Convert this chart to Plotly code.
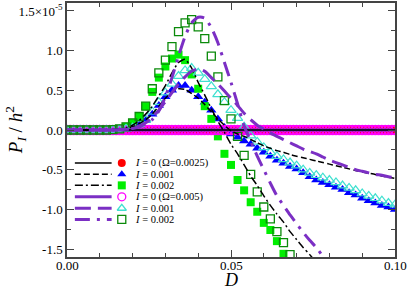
import plotly.graph_objects as go

# ---------------- data (values in units of 1e-5) ----------------
D = [0.000, 0.002, 0.004, 0.006, 0.008, 0.010, 0.012, 0.014, 0.016, 0.018,
     0.020, 0.022, 0.024, 0.026, 0.028, 0.030, 0.032, 0.034, 0.036, 0.038,
     0.040, 0.042, 0.044, 0.046, 0.048, 0.050, 0.052, 0.054, 0.056, 0.058,
     0.060, 0.062, 0.064, 0.066, 0.068, 0.070, 0.072, 0.074, 0.076, 0.078,
     0.080, 0.082, 0.084, 0.086, 0.088, 0.090, 0.092, 0.094, 0.096, 0.098,
     0.100]

D_FINE = [0.000, 0.001, 0.002, 0.003, 0.004, 0.005, 0.006, 0.007, 0.008, 0.009,
          0.010, 0.011, 0.012, 0.013, 0.014, 0.015, 0.016, 0.017, 0.018, 0.019,
          0.020, 0.021, 0.022, 0.023, 0.024, 0.025, 0.026, 0.027, 0.028, 0.029,
          0.030, 0.031, 0.032, 0.033, 0.034, 0.035, 0.036, 0.037, 0.038, 0.039,
          0.040, 0.041, 0.042, 0.043, 0.044, 0.045, 0.046, 0.047, 0.048, 0.049,
          0.050, 0.051, 0.052, 0.053, 0.054, 0.055, 0.056, 0.057, 0.058, 0.059,
          0.060, 0.061, 0.062, 0.063, 0.064, 0.065, 0.066, 0.067, 0.068, 0.069,
          0.070, 0.071, 0.072, 0.073, 0.074, 0.075, 0.076, 0.077, 0.078, 0.079,
          0.080, 0.081, 0.082, 0.083, 0.084, 0.085, 0.086, 0.087, 0.088, 0.089,
          0.090, 0.091, 0.092, 0.093, 0.094, 0.095, 0.096, 0.097, 0.098, 0.099,
          0.100]

# I = 0 series (both Omega): identically zero
zero_fine = [0.0, 0.0, 0.0, 0.0, 0.0, 0.0, 0.0, 0.0, 0.0, 0.0,
             0.0, 0.0, 0.0, 0.0, 0.0, 0.0, 0.0, 0.0, 0.0, 0.0,
             0.0, 0.0, 0.0, 0.0, 0.0, 0.0, 0.0, 0.0, 0.0, 0.0,
             0.0, 0.0, 0.0, 0.0, 0.0, 0.0, 0.0, 0.0, 0.0, 0.0,
             0.0, 0.0, 0.0, 0.0, 0.0, 0.0, 0.0, 0.0, 0.0, 0.0,
             0.0, 0.0, 0.0, 0.0, 0.0, 0.0, 0.0, 0.0, 0.0, 0.0,
             0.0, 0.0, 0.0, 0.0, 0.0, 0.0, 0.0, 0.0, 0.0, 0.0,
             0.0, 0.0, 0.0, 0.0, 0.0, 0.0, 0.0, 0.0, 0.0, 0.0,
             0.0, 0.0, 0.0, 0.0, 0.0, 0.0, 0.0, 0.0, 0.0, 0.0,
             0.0, 0.0, 0.0, 0.0, 0.0, 0.0, 0.0, 0.0, 0.0, 0.0,
             0.0]

# Omega = 0.0025, symbols
blue_I001 = [0, 0, 0, 0, 0, 0, 0, 0, 0.005, 0.01,
             0.03, 0.06, 0.12, 0.2, 0.31, 0.42, 0.5, 0.56, 0.56, 0.5,
             0.42, 0.35, 0.25, 0.14, 0.03, -0.05, -0.09, -0.14, -0.18, -0.23,
             -0.28, -0.33, -0.38, -0.42, -0.46, -0.49, -0.54, -0.59, -0.63, -0.66,
             -0.69, -0.72, -0.75, -0.79, -0.82, -0.86, -0.89, -0.92, -0.95, -0.97,
             -1.0]
green_I002 = [0, 0, 0, 0, 0, 0, 0, 0.005, 0.015, 0.04,
              0.09, 0.17, 0.3, 0.48, 0.66, 0.8, 0.9, 0.95, 0.88, 0.7,
              0.52, 0.3, 0.14, -0.08, -0.3, -0.44, -0.63, -0.76, -0.91, -1.03,
              -1.17, -1.26, -1.4, -1.56, -1.72]
# Omega = 0.005, symbols
cyan_I001 = [0, 0, 0, 0, 0, 0, 0, 0, 0.005, 0.015,
             0.03, 0.07, 0.13, 0.23, 0.35, 0.47, 0.58, 0.68, 0.75, 0.78,
             0.72, 0.64, 0.55, 0.45, 0.35, 0.25, 0.15, 0.04, -0.07, -0.15,
             -0.22, -0.28, -0.33, -0.37, -0.41, -0.45, -0.5, -0.54, -0.57, -0.6,
             -0.63, -0.66, -0.7, -0.73, -0.76, -0.8, -0.83, -0.86, -0.89, -0.92,
             -0.94]
dgreen_I002 = [0, 0, 0, 0, 0, 0, 0, 0.005, 0.015, 0.04,
               0.09, 0.17, 0.3, 0.52, 0.72, 0.88, 1.05, 1.24, 1.35, 1.39,
               1.3, 1.15, 0.93, 0.67, 0.37, 0.14, -0.08, -0.32, -0.56, -0.78,
               -0.97, -1.12, -1.28, -1.42, -1.57, -1.75]

# Omega = 0.0025, lines
black_dash_I001 = [0, 0, 0, 0, 0, 0, 0, 0.005, 0.01, 0.02,
                   0.04, 0.08, 0.13, 0.2, 0.3, 0.4, 0.48, 0.52, 0.51, 0.46,
                   0.4, 0.32, 0.23, 0.14, 0.06, -0.01, -0.05, -0.08, -0.12, -0.16,
                   -0.2, -0.23, -0.26, -0.28, -0.31, -0.33, -0.35, -0.37, -0.39, -0.41,
                   -0.43, -0.45, -0.47, -0.49, -0.51, -0.53, -0.545, -0.56, -0.58, -0.595,
                   -0.61]
black_dashdot_I002 = [0, 0, 0, 0, 0, 0, 0, 0.005, 0.01, 0.03,
                      0.06, 0.12, 0.2, 0.3, 0.43, 0.56, 0.72, 0.85, 0.89, 0.78,
                      0.6, 0.44, 0.27, 0.11, -0.03, -0.18, -0.3, -0.44, -0.58, -0.7,
                      -0.83, -0.95, -1.06, -1.16, -1.28, -1.38, -1.48, -1.57, -1.67]
# Omega = 0.005, lines
purple_dash_I001 = [0, 0, 0, 0, 0, 0, 0, 0, 0.005, 0.01,
                    0.02, 0.05, 0.09, 0.16, 0.25, 0.36, 0.47, 0.58, 0.67, 0.74,
                    0.77, 0.74, 0.66, 0.58, 0.49, 0.4, 0.31, 0.21, 0.13, 0.06,
                    0.01, -0.04, -0.08, -0.12, -0.16, -0.2, -0.24, -0.27, -0.3, -0.34,
                    -0.38, -0.41, -0.44, -0.47, -0.5, -0.52, -0.54, -0.56, -0.57, -0.59,
                    -0.6]
purple_dashdot_I002 = [0, 0, 0, 0, 0, 0, 0, 0, 0.005, 0.01,
                       0.02, 0.04, 0.08, 0.13, 0.24, 0.42, 0.66, 0.93, 1.18, 1.35,
                       1.42, 1.41, 1.29, 1.1, 0.85, 0.6, 0.33, 0.05, -0.14, -0.33,
                       -0.5, -0.67, -0.83, -0.95, -1.07, -1.18, -1.29, -1.39, -1.48, -1.59,
                       -1.7]

ZERO_LINE_D = [0.0, 0.1]
ZERO_LINE_V = [0.0, 0.0]

Y_TICKS = [-1.5, -1.0, -0.5, 0.0, 0.5, 1.0, 1.5]
Y_TICKTEXT = ["-1.5", "-1.0", "-0.5", "0.0", "0.5", "1.0", "1.5\u00d710<sup>-5</sup>"]
X_TICKS = [0.0, 0.05, 0.1]
X_TICKTEXT = ["0.00", "0.05", "0.10"]

LEGEND_LABELS = ["<i>I</i> = 0 (\u03a9=0.0025)", "<i>I</i> = 0.001", "<i>I</i> = 0.002",
                 "<i>I</i> = 0 (\u03a9=0.005)", "<i>I</i> = 0.001", "<i>I</i> = 0.002"]

# ---------------- styles ----------------
RED = "#ff0000"
BLUE = "#0000ff"
LIME = "#00ee00"
MAGENTA = "#ff00ff"
CYAN = "#40e0d0"
DGREEN = "#0a8a0a"
PURPLE = "#7b2fc4"
FONT = "Liberation Serif"

fig = go.Figure()

def mk(x, y, symbol, color, size, fill=True, lw=1.5):
    if fill:
        marker = dict(symbol=symbol, color=color, size=size, line=dict(width=0))
    else:
        marker = dict(symbol=symbol + "-open", color=color, size=size, line=dict(width=lw, color=color))
    fig.add_trace(go.Scatter(x=x, y=y, mode="markers", marker=marker,
                             showlegend=False, hoverinfo="skip"))

def ln(x, y, color, width, dash):
    fig.add_trace(go.Scatter(x=x, y=y, mode="lines", line=dict(color=color, width=width, dash=dash, shape="spline", smoothing=0.6),
                             showlegend=False, hoverinfo="skip"))

# markers
mk(D_FINE, zero_fine, "circle", RED, 9)
mk(D, blue_I001, "triangle-up", BLUE, 9)
mk(D[:len(green_I002)], green_I002, "square", LIME, 8)
mk(D_FINE, zero_fine, "circle", MAGENTA, 9, fill=False, lw=1.5)
mk(D, cyan_I001, "triangle-up", CYAN, 9, fill=False, lw=1.2)
mk(D[:len(dgreen_I002)], dgreen_I002, "square", DGREEN, 8, fill=False, lw=1.3)

# lines
BD = "6px,3px"
BDD = "8px,3px,2px,3px"
PD = "16px,7px"
PDD = "15px,7px,3px,7px"
ln(ZERO_LINE_D, ZERO_LINE_V, PURPLE, 3, "solid")
ln(ZERO_LINE_D, ZERO_LINE_V, "#000000", 1.5, "solid")
ln(D, black_dash_I001, "#000000", 1.5, BD)
ln(D[:len(black_dashdot_I002)], black_dashdot_I002, "#000000", 1.5, BDD)
ln(D, purple_dash_I001, PURPLE, 3, PD)
ln(D[:len(purple_dashdot_I002)], purple_dashdot_I002, PURPLE, 3, PDD)

# ---------------- manual legend on an overlay axis ----------------
leg_lines = [("#000000", 1.5, "solid"), ("#000000", 1.5, BD), ("#000000", 1.5, BDD),
             (PURPLE, 3, "solid"), (PURPLE, 3, PD), (PURPLE, 3, PDD)]
leg_marks = [("circle", RED, True), ("triangle-up", BLUE, True), ("square", LIME, True),
             ("circle", MAGENTA, False), ("triangle-up", CYAN, False), ("square", DGREEN, False)]
row_y = [0.370, 0.326, 0.282, 0.237, 0.192, 0.148]
annotations = []
for i in range(6):
    c, w, d = leg_lines[i]
    fig.add_trace(go.Scatter(x=[0.024, 0.136], y=[row_y[i], row_y[i]], mode="lines",
                             line=dict(color=c, width=w, dash=d), xaxis="x2", yaxis="y2",
                             showlegend=False, hoverinfo="skip"))
    s, col, filled = leg_marks[i]
    if filled:
        m = dict(symbol=s, color=col, size=8, line=dict(width=0))
    else:
        m = dict(symbol=s + "-open", color=col, size=8, line=dict(width=1.3, color=col))
    fig.add_trace(go.Scatter(x=[0.167], y=[row_y[i]], mode="markers", marker=m,
                             xaxis="x2", yaxis="y2", showlegend=False, hoverinfo="skip"))
    annotations.append(dict(x=0.200, y=row_y[i], xref="x2", yref="y2", text=LEGEND_LABELS[i],
                            showarrow=False, xanchor="left", yanchor="middle",
                            font=dict(family=FONT, size=10.5, color="#000")))

# x tick labels as annotations (placed tight under the axis like the reference)
for xv, xt in zip(X_TICKS, X_TICKTEXT):
    annotations.append(dict(x=xv, y=-0.034, xref="x", yref="paper", text=xt,
                            showarrow=False, xanchor="center", yanchor="middle",
                            font=dict(family=FONT, size=13, color="#000")))

# axis titles
annotations.append(dict(x=0.5, y=-0.092, xref="paper", yref="paper", text="<i>D</i>",
                        showarrow=False, xanchor="center", yanchor="middle",
                        font=dict(family=FONT, size=18, color="#000")))
annotations.append(dict(x=-0.158, y=0.5, xref="paper", yref="paper",
                        text="<i>P<sub>I</sub></i> / <i>h</i><sup>2</sup>",
                        textangle=-90, showarrow=False, xanchor="center", yanchor="middle",
                        font=dict(family=FONT, size=19, color="#000")))

axis_common = dict(showgrid=False, zeroline=False, showline=True, linecolor="#444", linewidth=1.5,
                   ticks="inside", ticklen=7, tickwidth=1, tickcolor="#444", mirror="allticks",
                   tickfont=dict(family=FONT, size=13, color="#000"))

fig.update_layout(
    width=410, height=289,
    margin=dict(l=67, r=15, t=1, b=32),
    paper_bgcolor="white", plot_bgcolor="white",
    xaxis=dict(range=[0, 0.1], tickvals=X_TICKS, showticklabels=False,
               minor=dict(ticks="inside", ticklen=4, dtick=0.01, tick0=0, tickcolor="#444"),
               **axis_common),
    yaxis=dict(range=[-1.6, 1.6], tickvals=Y_TICKS, ticktext=Y_TICKTEXT,
               minor=dict(ticks="inside", ticklen=4, dtick=0.25, tick0=0, tickcolor="#444"),
               **axis_common),
    xaxis2=dict(overlaying="x", range=[0, 1], visible=False),
    yaxis2=dict(overlaying="y", range=[0, 1], visible=False),
    annotations=annotations,
    showlegend=False,
)

fig.write_html("out.html", config={"displayModeBar": False},
               post_script="document.body.style.margin='0';document.body.style.overflow='hidden';")
